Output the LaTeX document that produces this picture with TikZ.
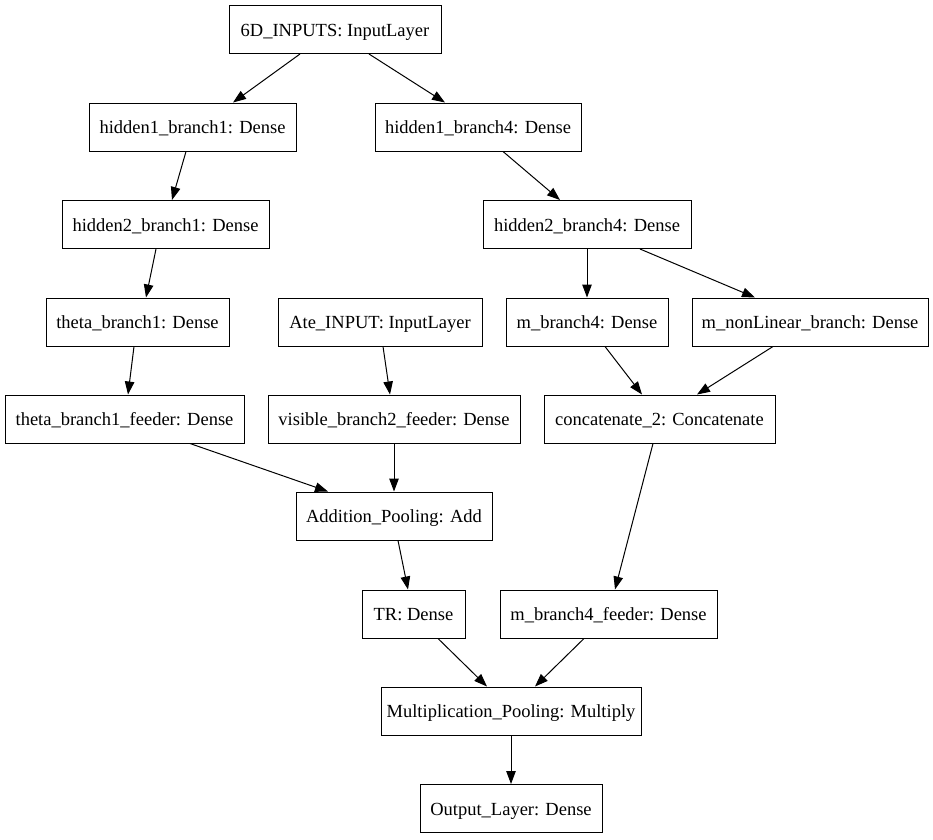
\documentclass[tikz,border=0pt]{standalone}
\usepackage{fontspec}
\setmainfont{Liberation Serif}
\usetikzlibrary{arrows.meta}
\begin{document}
\begin{tikzpicture}[x=1pt,y=-1pt,
  layer/.style={draw=black,line width=1pt,rectangle,inner sep=0pt,
    minimum height=48pt,text height=13pt,text depth=0pt,
    font=\fontsize{18.5}{20}\selectfont},
  flow/.style={draw=black,line width=1pt,
    -{Triangle[length=13pt,width=9.5pt]}}]
\useasboundingbox (0,0) rectangle (933,839);
% layers, top to bottom
\node[layer,minimum width=212pt] (in6d) at (335,29.5) {6D\_INPUTS: InputLayer};
\node[layer,minimum width=207pt] (h1b1) at (192.5,127) {hidden1\_branch1: Dense};
\node[layer,minimum width=206pt] (h1b4) at (478,127) {hidden1\_branch4: Dense};
\node[layer,minimum width=207pt] (h2b1) at (165.5,224.5) {hidden2\_branch1: Dense};
\node[layer,minimum width=208pt] (h2b4) at (587,224.5) {hidden2\_branch4: Dense};
\node[layer,minimum width=183pt] (thb1) at (137.5,322) {theta\_branch1: Dense};
\node[layer,minimum width=204pt] (ate) at (380,322) {Ate\_INPUT: InputLayer};
\node[layer,minimum width=162pt] (mb4) at (587,322) {m\_branch4: Dense};
\node[layer,minimum width=236pt] (mnl) at (810,322) {m\_nonLinear\_branch: Dense};
\node[layer,minimum width=239pt] (thf) at (124.5,419) {theta\_branch1\_feeder: Dense};
\node[layer,minimum width=252pt] (vis) at (394,419) {visible\_branch2\_feeder: Dense};
\node[layer,minimum width=231pt] (cat) at (659.5,419) {concatenate\_2: Concatenate};
\node[layer,minimum width=196pt] (add) at (394,516) {Addition\_Pooling: Add};
\node[layer,minimum width=103pt] (tr) at (413.5,614) {TR: Dense};
\node[layer,minimum width=217pt] (mbf) at (608.5,614) {m\_branch4\_feeder: Dense};
\node[layer,minimum width=260pt] (mul) at (511,711) {Multiplication\_Pooling: Multiply};
\node[layer,minimum width=182pt] (out) at (511,808.5) {Output\_Layer: Dense};
% connections
\draw[flow] ([xshift=-35pt]in6d.south) -- ([xshift=40.5pt]h1b1.north);
\draw[flow] ([xshift=34pt]in6d.south) -- ([xshift=-33pt]h1b4.north);
\draw[flow] ([xshift=-6.5pt]h1b1.south) -- ([xshift=6.5pt]h2b1.north);
\draw[flow] ([xshift=25pt]h1b4.south) -- ([xshift=-27pt]h2b4.north);
\draw[flow] ([xshift=-9.5pt]h2b1.south) -- ([xshift=8.5pt]thb1.north);
\draw[flow] (h2b4.south) -- (mb4.north);
\draw[flow] ([xshift=53pt]h2b4.south) -- ([xshift=-55pt]mnl.north);
\draw[flow] ([xshift=-3.5pt]thb1.south) -- ([xshift=3.5pt]thf.north);
\draw[flow] ([xshift=3pt]ate.south) -- ([xshift=-4pt]vis.north);
\draw[flow] ([xshift=18pt]mb4.south) -- ([xshift=-17.5pt]cat.north);
\draw[flow] ([xshift=-37pt]mnl.south) -- ([xshift=37.5pt]cat.north);
\draw[flow] ([xshift=65.5pt]thf.south) -- ([xshift=-66pt]add.north);
\draw[flow] (vis.south) -- (add.north);
\draw[flow] ([xshift=4pt]add.south) -- ([xshift=-5.5pt]tr.north);
\draw[flow] ([xshift=-6.5pt]cat.south) -- ([xshift=6.5pt]mbf.north);
\draw[flow] ([xshift=24.5pt]tr.south) -- ([xshift=-24pt]mul.north);
\draw[flow] ([xshift=-24.5pt]mbf.south) -- ([xshift=24pt]mul.north);
\draw[flow] (mul.south) -- (out.north);
\end{tikzpicture}
\end{document}
